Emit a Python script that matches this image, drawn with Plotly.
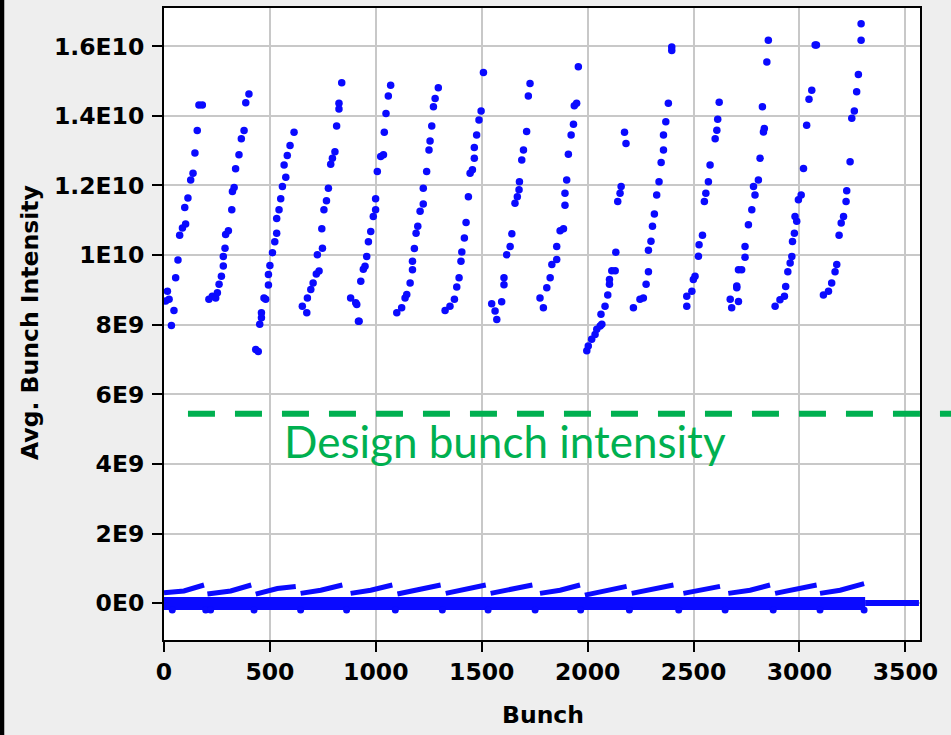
import plotly.graph_objects as go

# ---- data (bunch number, intensity in units of 1E9) ----
t1_x = [16, 24, 8, 47, 35, 55, 66, 74, 87, 102, 98, 113, 126, 137, 146, 157, 165, 181]
t1_y = [8.96, 8.73, 8.68, 8.41, 7.98, 9.35, 9.86, 10.57, 10.78, 10.89, 11.37, 11.64, 12.16, 12.35, 12.93, 13.58, 14.31, 14.31]
t2_x = [212, 228, 244, 252, 260, 271, 280, 280, 288, 291, 304, 320, 323, 331, 338, 354, 365, 378, 386, 401]
t2_y = [8.73, 8.82, 8.77, 8.92, 9.16, 9.39, 9.69, 9.96, 10.2, 10.59, 10.7, 11.3, 11.83, 11.94, 12.48, 12.88, 13.34, 13.58, 14.38, 14.63]
t3_x = [433, 445, 452, 460, 460, 472, 480, 493, 493, 500, 512, 523, 532, 532, 543, 551, 559, 575, 567, 582, 595, 614]
t3_y = [7.29, 7.23, 8.01, 8.2, 8.34, 8.77, 8.73, 9.14, 9.44, 9.7, 10.07, 10.38, 10.63, 11.05, 11.3, 11.62, 11.97, 12.24, 12.59, 12.86, 13.15, 13.53]
t4_x = [653, 674, 677, 693, 704, 719, 732, 724, 748, 745, 755, 767, 776, 787, 795, 807, 815, 826, 826, 839]
t4_y = [8.53, 8.34, 8.77, 9.01, 9.2, 9.46, 9.54, 10.01, 10.2, 10.76, 11.3, 11.56, 11.92, 12.61, 12.78, 12.97, 13.71, 14.2, 14.36, 14.95]
t5_x = [881, 905, 910, 918, 921, 929, 941, 949, 957, 965, 976, 988, 999, 999, 1007, 1023, 1036, 1040, 1048, 1059, 1070]
t5_y = [8.77, 8.63, 8.58, 8.1, 8.1, 9.25, 9.59, 9.68, 9.96, 10.38, 10.68, 11.11, 11.3, 11.62, 12.4, 12.83, 12.88, 13.53, 14.07, 14.57, 14.88]
t6_x = [1099, 1122, 1138, 1146, 1162, 1173, 1173, 1182, 1190, 1198, 1209, 1224, 1224, 1240, 1251, 1256, 1264, 1272, 1280, 1295]
t6_y = [8.34, 8.49, 8.77, 8.87, 9.2, 9.58, 9.82, 10.19, 10.63, 10.83, 11.26, 11.47, 11.92, 12.4, 13.02, 13.28, 13.71, 14.26, 14.5, 14.81]
t7_x = [1327, 1350, 1371, 1382, 1393, 1402, 1406, 1418, 1426, 1437, 1445, 1456, 1465, 1465, 1476, 1487, 1497, 1508]
t7_y = [8.41, 8.53, 8.73, 9.08, 9.35, 9.82, 10.09, 10.49, 10.94, 11.68, 12.35, 12.45, 12.78, 13.09, 13.45, 13.88, 14.14, 15.25]
t8_x = [1547, 1563, 1571, 1594, 1605, 1605, 1618, 1634, 1642, 1657, 1668, 1676, 1678, 1689, 1697, 1712, 1720, 1728]
t8_y = [8.6, 8.39, 8.15, 8.66, 9.15, 9.35, 10.01, 10.25, 10.61, 11.49, 11.68, 11.88, 12.11, 12.73, 13.02, 13.55, 14.57, 14.93]
t9_x = [1775, 1791, 1807, 1823, 1831, 1854, 1854, 1870, 1886, 1893, 1893, 1901, 1909, 1922, 1933, 1937, 1948, 1956]
t9_y = [8.77, 8.49, 9.06, 9.35, 9.73, 9.87, 10.25, 10.7, 10.76, 11.43, 11.78, 12.16, 12.9, 13.45, 13.76, 14.29, 14.36, 15.41]
t10_x = [1996, 2003, 2019, 2035, 2043, 2059, 2067, 2063, 2082, 2095, 2103, 2103, 2114, 2130, 2133, 2142, 2153, 2158, 2174, 2181]
t10_y = [7.25, 7.39, 7.58, 7.72, 7.87, 7.96, 8.01, 8.3, 8.53, 8.85, 9.16, 9.3, 9.55, 9.55, 10.08, 11.54, 11.78, 11.97, 13.53, 13.21]
t11_x = [2216, 2247, 2263, 2276, 2287, 2287, 2299, 2306, 2315, 2326, 2337, 2347, 2358, 2358, 2369, 2381, 2397, 2397]
t11_y = [8.49, 8.73, 8.77, 9.16, 9.52, 10.14, 10.4, 10.83, 11.18, 11.73, 12.11, 12.66, 13.02, 13.45, 13.83, 14.36, 15.98, 15.88]
t12_x = [2468, 2468, 2492, 2499, 2507, 2523, 2526, 2542, 2551, 2558, 2570, 2578, 2602, 2610, 2614, 2621]
t12_y = [8.53, 8.82, 8.96, 9.3, 9.39, 9.97, 10.3, 10.57, 11.54, 11.78, 12.11, 12.59, 13.34, 13.59, 13.9, 14.39]
t13_x = [2673, 2680, 2704, 2712, 2704, 2712, 2727, 2743, 2743, 2759, 2775, 2790, 2783, 2806, 2814, 2830, 2834, 2825, 2846, 2853]
t13_y = [8.73, 8.49, 9.11, 9.58, 9.06, 8.67, 9.58, 9.94, 10.25, 10.87, 11.3, 11.73, 11.97, 12.16, 12.78, 13.54, 13.64, 14.26, 15.55, 16.17]
t14_x = [2885, 2908, 2929, 2935, 2945, 2956, 2964, 2967, 2976, 2987, 2979, 2995, 3008, 3019, 3034, 3045, 3058, 3074, 3080]
t14_y = [8.53, 8.72, 8.82, 9.1, 9.52, 9.77, 9.96, 10.39, 10.63, 10.97, 11.11, 11.59, 11.73, 12.49, 13.73, 14.48, 14.74, 16.04, 16.04]
t15_x = [3113, 3137, 3152, 3168, 3176, 3187, 3197, 3208, 3220, 3223, 3239, 3247, 3259, 3270, 3278, 3291, 3291]
t15_y = [8.85, 8.96, 9.2, 9.52, 9.73, 10.57, 10.92, 11.11, 11.54, 11.85, 12.68, 13.93, 14.14, 14.69, 15.19, 16.17, 16.65]

trains_x = [t1_x, t2_x, t3_x, t4_x, t5_x, t6_x, t7_x, t8_x, t9_x, t10_x, t11_x, t12_x, t13_x, t14_x, t15_x]
trains_y = [t1_y, t2_y, t3_y, t4_y, t5_y, t6_y, t7_y, t8_y, t9_y, t10_y, t11_y, t12_y, t13_y, t14_y, t15_y]

# low-intensity band (units of 1E9): per-train small ramps, the near-zero core and the empty tail
ramp_x = [[0, 94, 189], [205, 315, 412], [433, 535, 622], [645, 740, 842], [881, 976, 1078],
          [1102, 1196, 1306], [1330, 1424, 1519], [1542, 1637, 1739], [1775, 1870, 1964],
          [1987, 2090, 2184], [2208, 2294, 2405], [2452, 2530, 2625], [2664, 2767, 2861],
          [2885, 2971, 3081], [3097, 3192, 3305]]
ramp_y = [[0.30, 0.35, 0.52], [0.26, 0.35, 0.52], [0.26, 0.42, 0.48], [0.28, 0.37, 0.52], [0.28, 0.37, 0.52],
          [0.26, 0.37, 0.52], [0.28, 0.39, 0.52], [0.28, 0.39, 0.52], [0.28, 0.37, 0.52],
          [0.23, 0.37, 0.48], [0.28, 0.39, 0.52], [0.28, 0.37, 0.48], [0.28, 0.37, 0.52],
          [0.28, 0.37, 0.52], [0.28, 0.37, 0.56]]
core_x = [0, 3310]
core_y = [-0.01, -0.01]
tail_x = [3310, 3564]
tail_y = [0.0, 0.0]
dip_x = [39, 197, 220, 425, 645, 862, 1092, 1314, 1530, 1752, 1967, 2197, 2430, 2649, 2876, 3097, 3305]
dip_y = [-0.2] * 17

y_tickvals = [0, 2e9, 4e9, 6e9, 8e9, 1e10, 1.2e10, 1.4e10, 1.6e10]
y_ticktext = ["0E0", "2E9", "4E9", "6E9", "8E9", "1E10", "1.2E10", "1.4E10", "1.6E10"]
x_tickvals = [0, 500, 1000, 1500, 2000, 2500, 3000, 3500]

design_intensity = 5.44e9
E9 = 1e9

BLUE = "#0A0AFF"
GREEN = "#00B050"

fig = go.Figure()

# core band of near-empty bunches
fig.add_trace(go.Scatter(x=core_x, y=[v * E9 for v in core_y], mode="lines",
                         line=dict(color=BLUE, width=13), hoverinfo="skip", showlegend=False))
fig.add_trace(go.Scatter(x=tail_x, y=[v * E9 for v in tail_y], mode="lines",
                         line=dict(color=BLUE, width=6), hoverinfo="skip", showlegend=False))
rx, ry = [], []
for xs, ys in zip(ramp_x, ramp_y):
    rx += xs + [None]
    ry += [v * E9 for v in ys] + [None]
fig.add_trace(go.Scatter(x=rx, y=ry, mode="lines", line=dict(color=BLUE, width=5),
                         hoverinfo="skip", showlegend=False))
fig.add_trace(go.Scatter(x=dip_x, y=[v * E9 for v in dip_y], mode="markers",
                         marker=dict(symbol="circle", size=7, color=BLUE, line=dict(width=0)),
                         showlegend=False))

# filled bunches
for xs, ys in zip(trains_x, trains_y):
    fig.add_trace(go.Scatter(x=xs, y=[v * E9 for v in ys], mode="markers",
                             marker=dict(symbol="circle", size=7.5, color=BLUE, line=dict(width=0)),
                             showlegend=False))

tick_font = dict(family="DejaVu Sans", size=23.5, color="black", weight="bold")

fig.update_layout(
    width=951, height=735,
    margin=dict(l=164, r=31, t=6, b=95),
    paper_bgcolor="#EEEEEE", plot_bgcolor="white",
    showlegend=False,
    xaxis=dict(range=[0, 3569], tickvals=x_tickvals, ticks="outside", ticklen=10, tickwidth=2,
               tickcolor="black", showline=True, linecolor="black", linewidth=2, mirror=True,
               showgrid=True, gridcolor="#C8C8C8", gridwidth=2, zeroline=False, tickfont=tick_font),
    yaxis=dict(range=[-1.06e9, 17.1e9], tickvals=y_tickvals, ticktext=y_ticktext, ticks="outside",
               ticklen=10, tickwidth=2, tickcolor="black", showline=True, linecolor="black",
               linewidth=2, mirror=True, showgrid=True, gridcolor="#C8C8C8", gridwidth=2,
               zeroline=False, tickfont=tick_font, ticklabelstandoff=3),
    shapes=[
        dict(type="line", xref="paper", yref="y", x0=0.0317, x1=1.05,
             y0=design_intensity, y1=design_intensity,
             line=dict(color=GREEN, width=6, dash="27px,20px")),
        dict(type="rect", xref="paper", yref="paper", x0=-0.2175, x1=-0.2113, y0=-0.2, y1=1.1,
             fillcolor="black", line=dict(width=0), layer="above"),
    ],
    annotations=[
        dict(text="Design bunch intensity", xref="x", yref="y", x=1612, y=4.67e9,
             xanchor="center", yanchor="middle", showarrow=False,
             font=dict(family="Lato", size=44, color=GREEN)),
        dict(text="Bunch", xref="paper", yref="paper", x=0.5013, y=-0.1183,
             xanchor="center", yanchor="middle", showarrow=False,
             font=dict(family="DejaVu Sans", size=23.5, color="black", weight="bold")),
        dict(text="Avg. Bunch Intensity", xref="paper", yref="paper", x=-0.1772, y=0.5016,
             xanchor="center", yanchor="middle", textangle=-90, showarrow=False,
             font=dict(family="DejaVu Sans", size=23.5, color="black", weight="bold")),
    ],
)

fig.write_html("out.html", config={"displayModeBar": False},
               post_script="document.body.style.margin='0';document.body.style.overflow='hidden';")
